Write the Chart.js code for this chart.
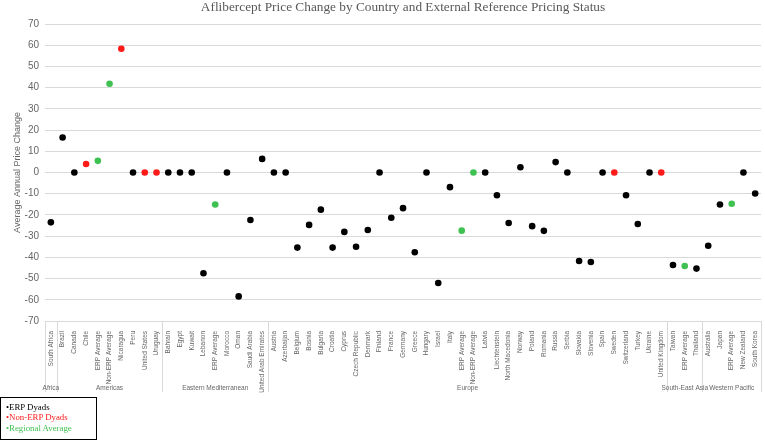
<!DOCTYPE html>
<html>
<head>
<meta charset="utf-8">
<script src="https://cdn.jsdelivr.net/npm/chart.js@4/dist/chart.umd.min.js"></script>
<style>
  body { margin: 0; background: #fff; }
  #wrap { position: relative; width: 765px; height: 440px; }
  #legenda {
    position: absolute; left: 0; top: 397px; width: 97px; height: 43px;
    border: 1.5px solid #000; font-family: "Liberation Serif", serif; font-size: 8.8px;
    line-height: 10.3px; padding: 4px 0 0 5px; box-sizing: border-box;
  }
</style>
</head>
<body>
<div id="wrap">
  <canvas id="grafico" width="765" height="440"></canvas>
  <div id="legenda">
    <div style="color:#000">•ERP Dyads</div>
    <div style="color:#ff1a1a">•Non-ERP Dyads</div>
    <div style="color:#3fc152">•Regional Average</div>
  </div>
</div>
<script>
// ===== DADOS =====
const categorias = [
    'South Africa',
    'Brazil', 'Canada', 'Chile', 'ERP Average', 'Non-ERP Average', 'Nicaragua', 'Peru', 'United States', 'Uruguay',
    'Bahrain', 'Egypt', 'Kuwait', 'Lebanon', 'ERP Average', 'Morocco', 'Oman', 'Saudi Arabia', 'United Arab Emirates',
    'Austria', 'Azerbaijan', 'Belgium', 'Bosnia', 'Bulgaria', 'Croatia', 'Cyprus', 'Czech Republic', 'Denmark', 'Finland',
    'France', 'Germany', 'Greece', 'Hungary', 'Israel', 'Italy', 'ERP Average', 'Non-ERP Average', 'Latvia', 'Liechtenstein',
    'North Macedonia', 'Norway', 'Poland', 'Romania', 'Russia', 'Serbia', 'Slovakia', 'Slovenia', 'Spain', 'Sweden',
    'Switzerland', 'Turkey', 'Ukraine', 'United Kingdom',
    'Taiwan', 'ERP Average', 'Thailand',
    'Australia', 'Japan', 'ERP Average', 'New Zealand', 'South Korea'
];

const regioes = ['Africa', 'Americas', 'Eastern Mediterranean', 'Europe', 'South-East Asia', 'Western Pacific'];
const tamanhoRegioes = [1, 9, 9, 34, 3, 5];

const valores = [
    -23.5,
    16.5, 0, 4, 5.5, 41.8, 58.3, 0, 0, 0,
    0, 0, 0, -47.5, -15.1, 0, -58.4, -22.4, 6.4,
    0, 0, -35.4, -24.7, -17.5, -35.4, -28.0, -35.0, -27.1, 0,
    -21.3, -16.8, -37.6, 0, -52.1, -6.9, -27.4, 0, 0, -10.7,
    -23.8, 2.5, -25.3, -27.5, 4.9, 0, -41.7, -42.2, 0, 0,
    -10.7, -24.3, 0, 0,
    -43.6, -44.1, -45.3,
    -34.5, -15.1, -14.7, 0, -9.9
];

// 'erp' = ERP Dyads, 'nao' = Non-ERP Dyads, 'media' = Regional Average
const status = [
    'erp',
    'erp', 'erp', 'nao', 'media', 'media', 'nao', 'erp', 'nao', 'nao',
    'erp', 'erp', 'erp', 'erp', 'media', 'erp', 'erp', 'erp', 'erp',
    'erp', 'erp', 'erp', 'erp', 'erp', 'erp', 'erp', 'erp', 'erp', 'erp',
    'erp', 'erp', 'erp', 'erp', 'erp', 'erp', 'media', 'media', 'erp', 'erp',
    'erp', 'erp', 'erp', 'erp', 'erp', 'erp', 'erp', 'erp', 'erp', 'nao',
    'erp', 'erp', 'erp', 'nao',
    'erp', 'media', 'erp',
    'erp', 'erp', 'media', 'erp', 'erp'
];

const cores = { erp: '#000000', nao: '#ff1a1a', media: '#3fc152' };
const cinza = '#666666';

// Plugin: título, separadores e nomes das regiões
const pluginRegioes = {
    id: 'regioes',
    afterDraw(chart) {
        const ctx = chart.ctx;
        const x = chart.scales.x;
        const area = chart.chartArea;
        const meio = (x.getPixelForValue(1) - x.getPixelForValue(0)) / 2;

        ctx.save();
        // título
        ctx.fillStyle = '#595959';
        ctx.font = '13.3px "Liberation Serif"';
        ctx.textAlign = 'center';
        ctx.textBaseline = 'middle';
        ctx.fillText('Aflibercept Price Change by Country and External Reference Pricing Status',
            (area.left + area.right) / 2, 8);

        ctx.fillStyle = cinza;
        ctx.strokeStyle = '#d9d9d9';
        ctx.lineWidth = 1;
        ctx.font = '6.5px "Liberation Sans"';
        let inicio = 0;
        const linha = px => {
            ctx.beginPath();
            ctx.moveTo(Math.round(px) + 0.5, area.bottom);
            ctx.lineTo(Math.round(px) + 0.5, area.bottom + 71);
            ctx.stroke();
        };
        linha(x.getPixelForValue(0) - meio);
        regioes.forEach((nome, i) => {
            const fim = inicio + tamanhoRegioes[i] - 1;
            const esq = x.getPixelForValue(inicio) - meio;
            const dir = x.getPixelForValue(fim) + meio;
            linha(dir);
            ctx.fillText(nome, (esq + dir) / 2, area.bottom + 67);
            inicio = fim + 1;
        });
        ctx.restore();
    }
};

const ctx = document.getElementById('grafico');

new Chart(ctx, {
    type: 'line',
    data: {
        labels: categorias,
        datasets: [{
            data: valores,
            showLine: false,
            pointRadius: 3.3,
            pointHoverRadius: 3.3,
            pointBorderWidth: 0,
            pointBackgroundColor: status.map(s => cores[s]),
            pointBorderColor: status.map(s => cores[s])
        }]
    },
    options: {
        responsive: false,
        animation: false,
        layout: { padding: { top: 24, right: 1 } },
        plugins: {
            legend: { display: false },
            title: { display: false },
            tooltip: { enabled: false }
        },
        scales: {
            x: {
                offset: true,
                grid: { display: false },
                border: { display: false },
                ticks: {
                    autoSkip: false,
                    minRotation: 90,
                    maxRotation: 90,
                    padding: 2,
                    color: cinza,
                    font: { family: 'Liberation Sans', size: 6.5 }
                },
                afterFit(scale) { scale.height = 119; }
            },
            y: {
                min: -70,
                max: 70,
                ticks: {
                    stepSize: 10,
                    padding: 6,
                    color: cinza,
                    font: { family: 'Liberation Sans', size: 10 }
                },
                grid: { color: '#d9d9d9', drawTicks: false },
                border: { display: false },
                title: {
                    display: true,
                    text: 'Average Annual Price Change',
                    color: cinza,
                    padding: { top: 12, bottom: 0 },
                    font: { family: 'Liberation Sans', size: 9 }
                },
                afterFit(scale) { scale.width = 45; }
            }
        }
    },
    plugins: [pluginRegioes]
});
</script>
</body>
</html>
